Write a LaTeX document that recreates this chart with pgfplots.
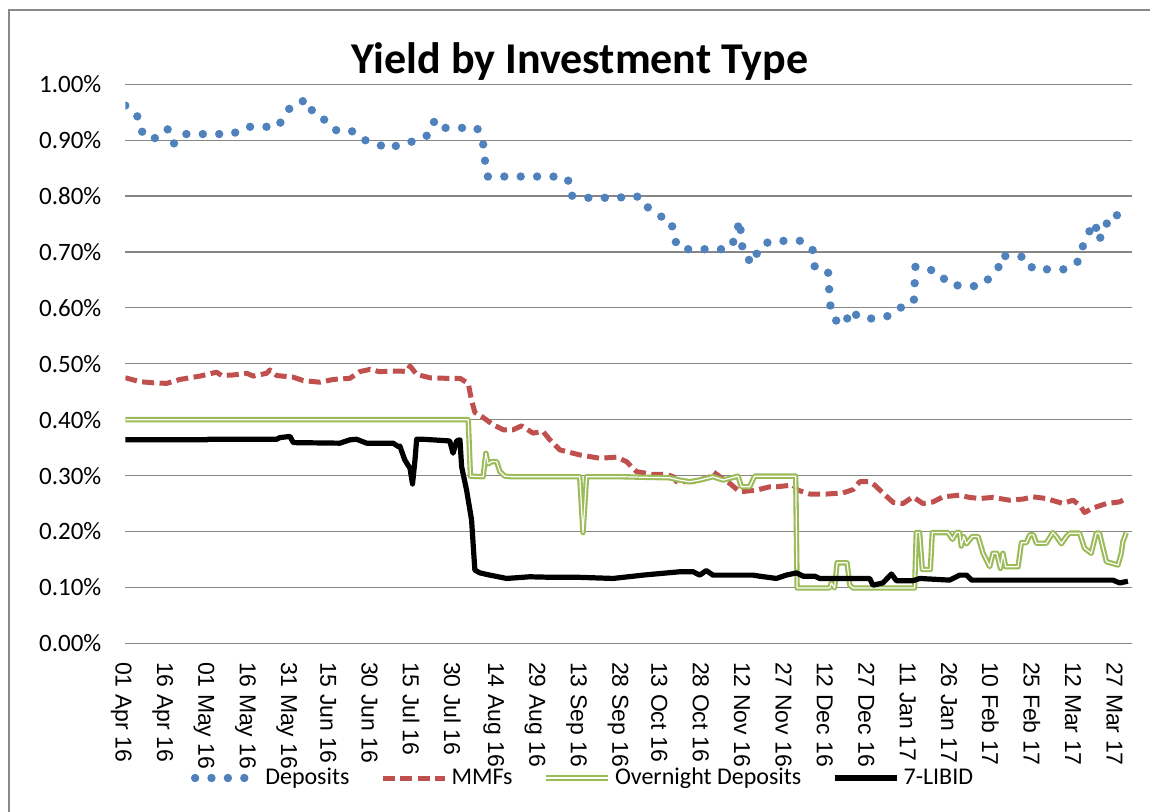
\documentclass[border=0pt]{standalone}
\usepackage{fontspec}
\setmainfont{Carlito}
\newfontfamily\arialfont{Liberation Sans}
\usepackage{pgfplots}
\pgfplotsset{compat=1.18}
\definecolor{depblue}{RGB}{79,129,189}
\definecolor{mmfred}{RGB}{192,80,77}
\definecolor{ongreen}{RGB}{155,187,89}
\definecolor{gridgray}{RGB}{134,134,134}
\definecolor{framegray}{RGB}{137,137,137}

\pgfplotstableread{
d v
0 0.962
1.6 0.958
5.0 0.939
6.5 0.907
11.7 0.903
15.5 0.920
17.6 0.894
20.9 0.911
27.0 0.911
32.9 0.911
38.9 0.911
43.5 0.924
49.5 0.924
55.4 0.924
57.9 0.947
61.1 0.966
66.3 0.972
68.1 0.947
72.4 0.936
75.9 0.918
81.7 0.918
85.4 0.902
90.7 0.895
95.5 0.884
100.0 0.894
105.7 0.899
110.4 0.911
112.2 0.937
115.8 0.922
121.6 0.922
127.5 0.922
129.6 0.898
130.3 0.866
131.3 0.835
137.2 0.835
143.3 0.835
149.2 0.835
155.1 0.835
160.4 0.831
161.5 0.801
167.0 0.797
173.1 0.797
179.0 0.797
183.7 0.801
187.5 0.797
189.5 0.779
193.5 0.765
198.0 0.755
198.7 0.725
201.1 0.705
207.0 0.705
212.9 0.705
218.8 0.705
221.3 0.726
222.6 0.757
223.3 0.727
223.9 0.695
227.7 0.679
229.5 0.707
233.5 0.719
239.6 0.720
245.5 0.720
249.1 0.704
249.9 0.673
254.7 0.666
255.1 0.634
255.6 0.602
257.4 0.578
260.9 0.570
262.7 0.596
266.6 0.581
272.5 0.581
277.8 0.587
281.7 0.603
285.8 0.611
286.1 0.643
286.4 0.674
289.5 0.671
294.9 0.664
298.3 0.642
303.9 0.639
309.8 0.639
313.9 0.656
316.8 0.675
317.8 0.695
320.4 0.690
326.2 0.692
329.0 0.669
334.9 0.669
340.8 0.669
345.1 0.682
346.9 0.708
348.9 0.733
351.7 0.753
352.3 0.721
355.1 0.733
356.2 0.764
361.7 0.767
363 0.767
}\deposits

\pgfplotstableread{
d v
0 0.475
5.3 0.468
10.1 0.466
15 0.465
19.8 0.472
27.1 0.478
33.1 0.485
34.9 0.479
39.1 0.480
44 0.483
46.4 0.478
51.2 0.483
52.4 0.489
54.9 0.479
60.9 0.476
64.5 0.470
70.5 0.467
75.4 0.472
81.4 0.474
85 0.486
88.7 0.490
92 0.486
99.5 0.487
102 0.486
103.2 0.496
105.6 0.481
110.4 0.475
116.4 0.474
121.3 0.474
124.3 0.465
125.5 0.435
126.7 0.413
129.7 0.404
133.3 0.391
137 0.382
140.6 0.382
143.6 0.389
147.8 0.376
151.4 0.379
153.9 0.364
157.5 0.346
164.7 0.337
172 0.331
178 0.333
181.7 0.325
185.3 0.307
191.3 0.302
196.2 0.302
198.6 0.298
199.8 0.289
205.8 0.289
211.8 0.297
213 0.307
215.5 0.298
219.1 0.286
222.7 0.271
228.8 0.274
233.6 0.280
236 0.280
242 0.283
243.8 0.274
248.1 0.267
254.1 0.267
260.1 0.269
263.8 0.275
266.2 0.289
269.8 0.289
271.6 0.283
274.6 0.269
278.3 0.252
281.9 0.250
285.5 0.262
289.1 0.250
292.8 0.253
296.4 0.262
302.4 0.265
306 0.261
309.7 0.259
314.5 0.261
320.5 0.256
325.4 0.258
329 0.262
333.8 0.259
339.9 0.250
343.5 0.256
345.9 0.247
347.7 0.234
350.7 0.242
355.6 0.250
360.4 0.253
362.8 0.259
}\mmfs

\pgfplotstableread{
d v
0 0.400
124.3 0.400
125.1 0.299
129.7 0.298
130.7 0.340
131.5 0.321
132.8 0.325
134.6 0.325
135.8 0.307
137.6 0.299
140 0.298
164.7 0.298
165.9 0.198
167.2 0.298
179.2 0.298
197.4 0.296
200.8 0.292
204.6 0.289
208.2 0.292
213 0.298
216.7 0.292
222.1 0.299
223.3 0.280
226.3 0.280
228.1 0.299
242 0.299
243 0.299
243.5 0.099
255.3 0.099
255.9 0.108
257.1 0.099
258 0.144
261.6 0.144
262.6 0.104
263.8 0.099
286.1 0.099
286.7 0.198
287.9 0.198
288.9 0.132
291.8 0.132
292.5 0.198
298.2 0.198
299.8 0.186
301.2 0.198
302.4 0.198
303 0.174
303.9 0.191
304.9 0.178
307 0.191
309.1 0.191
310.9 0.161
313.3 0.137
314.5 0.161
315.9 0.161
317.2 0.134
318.1 0.161
319.1 0.137
323.6 0.137
324.8 0.180
326.6 0.180
327.8 0.194
329.2 0.194
330.2 0.179
333.8 0.179
336.2 0.198
337.5 0.191
339.3 0.178
341.1 0.191
342.3 0.197
345.9 0.197
347.7 0.170
350.1 0.161
351.9 0.197
353.1 0.197
355.6 0.146
359.8 0.140
361 0.161
361.6 0.182
362.8 0.198
}\overnight

\pgfplotstableread{
d v
0 0.364
29.6 0.364
30 0.365
54.9 0.365
56 0.368
59.7 0.370
60.9 0.359
77.8 0.358
81.4 0.364
83.8 0.365
87.5 0.358
92.3 0.358
97.1 0.358
98.9 0.352
99.5 0.353
101.3 0.328
103.2 0.313
104.1 0.285
105 0.328
105.6 0.365
108 0.365
117.6 0.362
118.8 0.340
120.1 0.362
121.3 0.364
121.9 0.316
123.7 0.274
125.5 0.221
126.7 0.131
128.5 0.126
132.1 0.122
138.2 0.116
146.6 0.119
155.1 0.118
164.7 0.118
176.8 0.116
187.7 0.122
201 0.128
205.8 0.128
208.2 0.122
210.6 0.130
213 0.122
227.5 0.122
230 0.120
236 0.116
239.6 0.122
243.3 0.126
245.7 0.120
249.9 0.120
251.7 0.116
269.8 0.116
271 0.104
274.6 0.108
277.7 0.124
279.5 0.112
285.5 0.112
288 0.116
298.8 0.113
302.4 0.122
304.9 0.122
306.8 0.113
358 0.113
360.4 0.108
363.4 0.111
}\libid

\begin{document}
\begin{tikzpicture}
\useasboundingbox (-62.65pt,-84.35pt) rectangle (512.35pt,321.65pt);
\begin{axis}[
  scale only axis, width=503.5pt, height=279.5pt,
  xmin=0, xmax=365, ymin=0, ymax=1,
  axis line style={draw=none},
  major tick length=0pt,
  ytick={0,0.1,0.2,0.3,0.4,0.5,0.6,0.7,0.8,0.9,1.0},
  ymajorgrids, grid style={gridgray, line width=0.6pt},
  /pgf/number format/assume math mode=true,
  yticklabel={\pgfmathprintnumber[fixed,fixed zerofill,precision=2]{\tick}\%},
  yticklabel style={font=\fontsize{12.5}{14}\selectfont, inner sep=0pt, anchor=east, xshift=-11.8pt},
  xtick={0,15,...,360},
  xticklabels={01 Apr 16, 16 Apr 16, 01 May 16, 16 May 16, 31 May 16, 15 Jun 16, 30 Jun 16, 15 Jul 16, 30 Jul 16, 14 Aug 16, 29 Aug 16, 13 Sep 16, 28 Sep 16, 13 Oct 16, 28 Oct 16, 12 Nov 16, 27 Nov 16, 12 Dec 16, 27 Dec 16, 11 Jan 17, 26 Jan 17, 10 Feb 17, 25 Feb 17, 12 Mar 17, 27 Mar 17},
  xticklabel style={font=\arialfont\fontsize{11.5}{13}\selectfont, inner sep=0pt, xshift=-2pt, yshift=-9.2pt, rotate=-90, anchor=west},
  legend style={at={(0.4555,-0.241)}, anchor=center, draw=none, fill=none,
    legend columns=-1, font=\fontsize{12}{14}\selectfont,
    /tikz/every even column/.append style={column sep=13.5pt}},
  legend image code/.code={\draw[#1] (0pt,0pt) -- (31pt,0pt);},
]
\addplot[depblue, line width=4.2pt, line cap=round, line join=round, dash pattern=on 0pt off 8.2pt] table[x=d,y=v] {\deposits};
\addlegendentry{Deposits}
\addplot[mmfred, line width=2.5pt, line join=round, dash pattern=on 6pt off 2.7pt] table[x=d,y=v] {\mmfs};
\addlegendentry{MMFs}
\addplot[ongreen, line width=1.05pt, double=white, double distance=0.6pt, line join=round] table[x=d,y=v] {\overnight};
\addlegendentry{Overnight Deposits}
\addplot[black, line width=2.6pt, line join=round] table[x=d,y=v] {\libid};
\addlegendentry{7-LIBID}
\end{axis}
\node[font=\bfseries\fontsize{22}{26}\selectfont, anchor=base] at (227.35pt,284.65pt) {Yield by Investment Type};
\draw[framegray, line width=1pt] (-58.15pt,-90pt) -- (-58.15pt,316.65pt) -- (520pt,316.65pt);
\end{tikzpicture}
\end{document}
